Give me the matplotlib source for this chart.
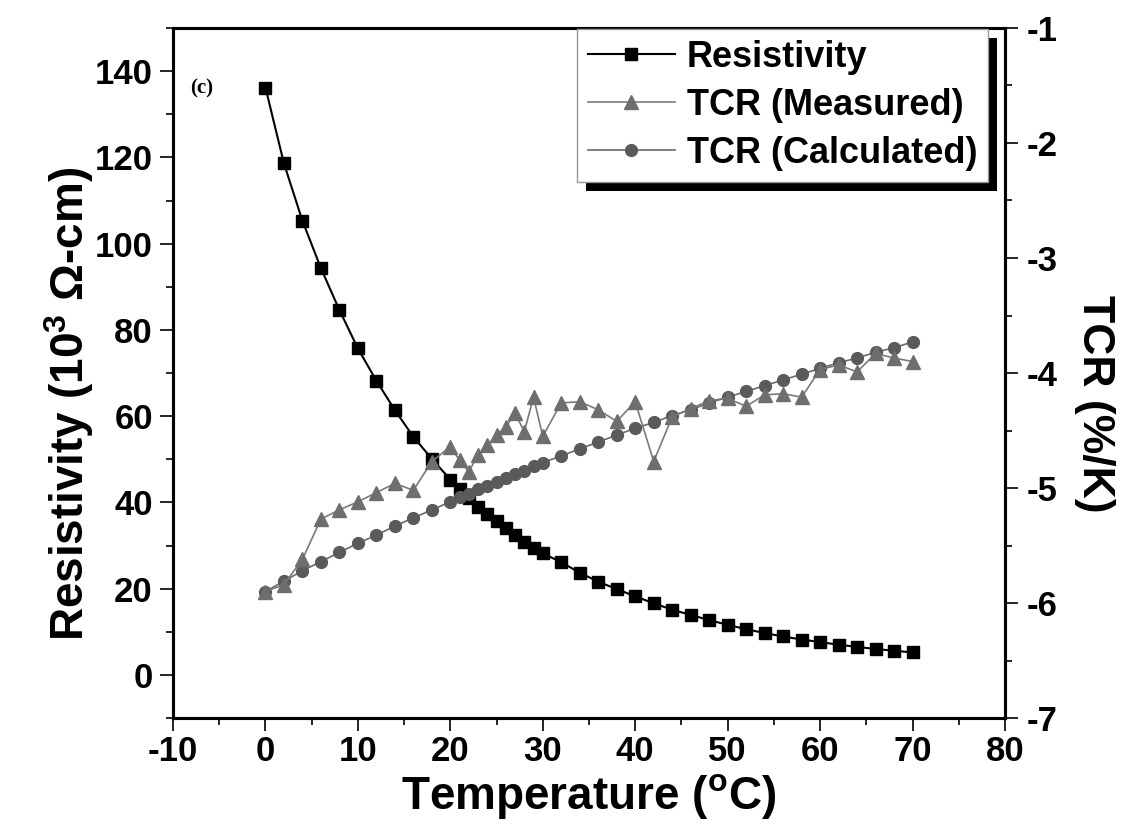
import matplotlib
matplotlib.use("Agg")
import matplotlib.pyplot as plt
from matplotlib.ticker import MultipleLocator
from matplotlib.patches import Rectangle

# Temperature sweep (°C): 2-degree steps, 1-degree steps between 20 and 30
temperature = [0, 2, 4, 6, 8, 10, 12, 14, 16, 18, 20,
               21, 22, 23, 24, 25, 26, 27, 28, 29, 30,
               32, 34, 36, 38, 40, 42, 44, 46, 48, 50,
               52, 54, 56, 58, 60, 62, 64, 66, 68, 70]

# Resistivity (10^3 Ohm-cm)
resistivity = [136.2, 118.6, 105.3, 94.3, 84.6, 75.7, 68.2, 61.4, 55.2, 50.1, 45.3,
               43.1, 41.0, 39.0, 37.3, 35.7, 34.1, 32.5, 30.9, 29.5, 28.2,
               26.1, 23.7, 21.6, 19.9, 18.2, 16.6, 15.1, 13.9, 12.7, 11.6,
               10.6, 9.7, 8.9, 8.2, 7.6, 7.0, 6.5, 6.0, 5.6, 5.2]

# Temperature coefficient of resistance (%/K)
tcr_measured = [-5.90, -5.84, -5.62, -5.27, -5.19, -5.12, -5.04, -4.96, -5.02, -4.77, -4.64,
                -4.76, -4.86, -4.71, -4.63, -4.54, -4.47, -4.35, -4.51, -4.21, -4.55,
                -4.26, -4.25, -4.32, -4.42, -4.25, -4.77, -4.38, -4.31, -4.24, -4.22,
                -4.29, -4.19, -4.18, -4.21, -3.97, -3.93, -3.99, -3.83, -3.87, -3.90]

tcr_calculated = [-5.90, -5.81, -5.72, -5.64, -5.56, -5.48, -5.41, -5.33, -5.26, -5.19, -5.12,
                  -5.08, -5.05, -5.01, -4.98, -4.95, -4.91, -4.88, -4.85, -4.81, -4.78,
                  -4.72, -4.66, -4.60, -4.54, -4.48, -4.43, -4.37, -4.32, -4.26, -4.21,
                  -4.16, -4.11, -4.06, -4.01, -3.96, -3.91, -3.87, -3.82, -3.78, -3.73]

plt.rcParams["font.family"] = ["Liberation Sans", "DejaVu Sans"]
plt.rcParams["font.weight"] = "bold"
plt.rcParams["axes.unicode_minus"] = False
plt.rcParams["mathtext.fontset"] = "custom"
plt.rcParams["mathtext.rm"] = "Liberation Sans:bold"
plt.rcParams["mathtext.it"] = "Liberation Sans:bold"
plt.rcParams["mathtext.bf"] = "Liberation Sans:bold"

fig = plt.figure(figsize=(11.31, 8.4), dpi=100)
ax = fig.add_axes([173 / 1131, 1 - 718 / 840, 832 / 1131, 690 / 840])
ax2 = ax.twinx()
ax.patch.set_visible(False)
ax2.patch.set_visible(False)

l1, = ax.plot(temperature, resistivity, "-s", color="black", lw=1.5,
              ms=8.5, mfc="black", mec="black", label="Resistivity", zorder=3)
l2, = ax2.plot(temperature, tcr_measured, "-^", color="#7a7a7a", lw=1.2,
               ms=9.5, mfc="#6e6e6e", mec="#6e6e6e", label="TCR (Measured)", zorder=3)
l3, = ax2.plot(temperature, tcr_calculated, "-o", color="#6a6a6a", lw=1.2,
               ms=8.5, mfc="#5a5a5a", mec="#5a5a5a", label="TCR (Calculated)", zorder=2)

ax.set_xlim(-10, 80)
ax.set_ylim(-10, 150)
ax2.set_ylim(-7, -1)

ax.xaxis.set_major_locator(MultipleLocator(10))
ax.xaxis.set_minor_locator(MultipleLocator(5))
ax.yaxis.set_major_locator(MultipleLocator(20))
ax.yaxis.set_minor_locator(MultipleLocator(10))
ax2.yaxis.set_major_locator(MultipleLocator(1))
ax2.yaxis.set_minor_locator(MultipleLocator(0.5))

ax.set_yticks([0, 20, 40, 60, 80, 100, 120, 140])

for a in (ax, ax2):
    for s in a.spines.values():
        s.set_linewidth(2.2)
    a.tick_params(which="major", direction="out", length=9.5, width=1.2, labelsize=25)
    a.tick_params(which="minor", direction="out", length=5, width=1.2)
ax.tick_params(axis="x", which="both", top=False, pad=3)
ax.tick_params(axis="y", which="both", right=False, pad=5)
ax2.tick_params(axis="y", which="both", left=False, pad=6)

ax.set_xlabel(r"Temperature ($\mathrm{^{o}}$C)", fontsize=33, fontweight="bold")
ax.xaxis.set_label_coords(0.5, -0.078)
ax.set_ylabel(r"Resistivity (10$\mathrm{^{3}}$ Ω-cm)", fontsize=33, fontweight="bold")
ax.yaxis.set_label_coords(-0.092, 0.455)
ax2.set_ylabel("TCR (%/K)", fontsize=32, fontweight="bold", rotation=270, va="bottom")
ax2.yaxis.set_label_coords(1.083, 0.455)

fig.text(190 / 1131, 1 - 88 / 840, "(c)", family="Liberation Serif", fontweight="bold",
         fontsize=15, ha="left", va="center")

leg = ax2.legend(handles=[l1, l2, l3], loc="upper right",
                 bbox_to_anchor=(988 / 1131, 1 - 29 / 840), bbox_transform=fig.transFigure,
                 prop={"weight": "bold", "size": 26}, frameon=True, fancybox=False,
                 edgecolor="#999999", framealpha=1, borderpad=0.3, labelspacing=0.36,
                 handlelength=2.4, handletextpad=0.33, borderaxespad=0)
leg.get_frame().set_linewidth(1.0)

fig.canvas.draw()
bb = leg.get_window_extent()
fig.add_artist(Rectangle((bb.x0 + 9, bb.y0 - 9), bb.width, bb.height, transform=None,
                         facecolor="black", edgecolor="none", zorder=-1))

fig.savefig("out.png", dpi=100)
